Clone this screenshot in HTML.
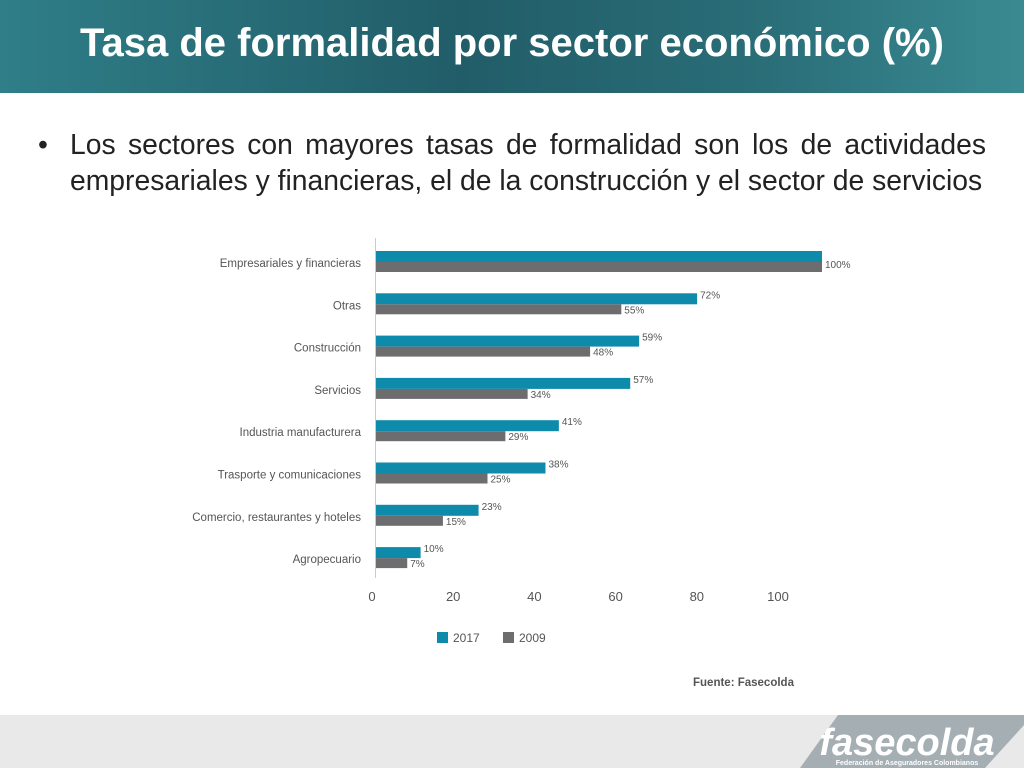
<!DOCTYPE html>
<html><head><meta charset="utf-8"><style>
body{margin:0;width:1024px;height:768px;overflow:hidden;background:#fff;font-family:"Liberation Sans",sans-serif;position:relative}
#hdr{position:absolute;left:0;top:0;width:1024px;height:93px;background:linear-gradient(90deg,#2f7e88 0%,#215d68 45%,#2a6e78 75%,#3a8a92 100%)}
#title{position:absolute;left:0;width:1024px;top:21px;text-align:center;color:#fff;font-weight:bold;font-size:40px}
#bullet{position:absolute;left:38px;top:126px;width:948px;font-size:28.3px;color:#222;line-height:36px;text-align:justify;white-space:normal}
#foot{position:absolute;left:0;top:715px;width:1024px;height:53px;background:#e9e9e9}
</style></head><body>
<div id="hdr"></div>
<div id="title">Tasa de formalidad por sector económico (%)</div>
<div id="bullet"><span style="position:absolute;left:0">•</span><div style="margin-left:32px">Los sectores con mayores tasas de formalidad son los de actividades empresariales y financieras, el de la construcción y el sector de servicios</div></div>
<svg id="chart" width="1024" height="768" style="position:absolute;left:0;top:0"></svg>
<div id="foot"></div>
<svg width="1024" height="53" style="position:absolute;left:0;top:715px">
<polygon points="838,0 1024,0 1024,10 985,53 800,53" fill="#a4aeb3"/>
<text x="907" y="40" text-anchor="middle" fill="#fff" font-size="38" font-weight="bold" font-family="Liberation Sans" font-style="italic">fasecolda</text>
<text x="907" y="50" text-anchor="middle" fill="#fff" font-size="7" font-weight="bold" font-family="Liberation Sans">Federación de Aseguradores Colombianos</text>
</svg>
<script>
const categories=["Empresariales y financieras","Otras","Construcción","Servicios","Industria manufacturera","Trasporte y comunicaciones","Comercio, restaurantes y hoteles","Agropecuario"];
const values2017=[100,72,59,57,41,38,23,10];
const values2009=[100,55,48,34,29,25,15,7];
const ticks=[0,20,40,60,80,100];
const svg=document.getElementById('chart');
const NS='http://www.w3.org/2000/svg';
const x=v=>376+v*4.46;
const tx=v=>372+v*4.06;
const yc=i=>263+i*42.3;
function mk(t,a,txt){const e=document.createElementNS(NS,t);for(const k in a)e.setAttribute(k,a[k]);if(txt!=null)e.textContent=txt;svg.appendChild(e);return e;}
let ax=mk('line',{x1:375.5,x2:375.5,y1:238,y2:578,stroke:'#ccc'});


categories.forEach((c,i)=>{
 let l=mk('text',{x:361,y:yc(i)+4,'text-anchor':'end','font-size':11.5,fill:'#555','font-family':'Liberation Sans'},c);
 
 
 let b1=mk('rect',{x:376,y:yc(i)-12,width:x(values2017[i])-376,height:11,fill:'#0e8aab'});
 
 
 let b2=mk('rect',{x:376,y:yc(i)-1,width:x(values2009[i])-376,height:10,fill:'#6d6d6f'});
 
 
 if(i>0){let v1=mk('text',{x:x(values2017[i])+3,y:yc(i)-7,'font-size':10,fill:'#555'},values2017[i]+'%');
 
 }
 let v2=mk('text',{x:x(values2009[i])+3,y:yc(i)+ (i==0?5:8),'font-size':10,fill:'#555'},values2009[i]+'%');
 
 
});
ticks.forEach(t=>{
 let e=mk('text',{x:tx(t),y:601,'text-anchor':'middle','font-size':13,fill:'#555'},t);
 
 
});
let s1=mk('rect',{x:437,y:632,width:11,height:11,fill:'#0e8aab'});


let t1=mk('text',{x:453,y:642,'font-size':12,fill:'#555'},'2017');


let s2=mk('rect',{x:503,y:632,width:11,height:11,fill:'#6d6d6f'});


let t2=mk('text',{x:519,y:642,'font-size':12,fill:'#555'},'2009');


let src=mk('text',{x:693,y:686,'font-size':11.5,fill:'#555','font-weight':'bold'},'Fuente: Fasecolda');


</script>
</body></html>
